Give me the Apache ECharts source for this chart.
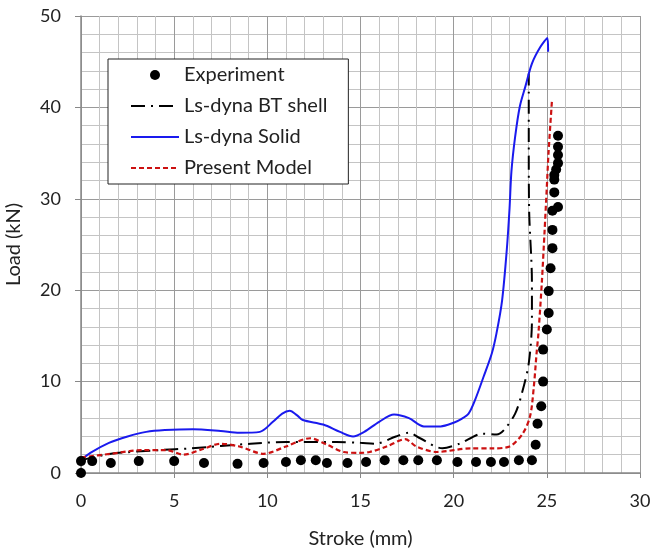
<!DOCTYPE html>
<html><head><meta charset="utf-8">
<script src="https://cdn.jsdelivr.net/npm/echarts@6/dist/echarts.min.js"></script>
<style>html,body{margin:0;padding:0;background:#fff}#c{width:652px;height:551px}</style>
</head><body><div id="c"></div>
<script>
var xTicks = [0, 5, 10, 15, 20, 25, 30];
var yTicks = [0, 10, 20, 30, 40, 50];

var expX = [0, 0, 0.6, 1.6, 3.1, 5.0, 6.6, 8.4, 9.8, 11.0, 11.8, 12.6, 13.2, 14.3, 15.3, 16.3, 17.3, 18.1, 19.1, 20.2, 21.2, 22.0, 22.7, 23.5, 24.2, 24.4, 24.5, 24.7, 24.8, 24.8, 25.0, 25.1, 25.1, 25.2, 25.3, 25.3, 25.3, 25.6, 25.4, 25.4, 25.4, 25.5, 25.6, 25.6, 25.6, 25.6];
var expY = [0, 1.3, 1.3, 1.1, 1.3, 1.3, 1.1, 1.0, 1.1, 1.2, 1.4, 1.4, 1.1, 1.1, 1.2, 1.4, 1.4, 1.4, 1.4, 1.2, 1.2, 1.2, 1.2, 1.4, 1.4, 3.1, 5.4, 7.3, 10.0, 13.5, 15.7, 17.5, 19.9, 22.4, 24.6, 26.6, 28.7, 29.1, 30.7, 32.1, 32.6, 33.2, 33.9, 34.8, 35.7, 36.9];

var btX = [0, 1.6, 4.2, 5.9, 9.1, 11.0, 13.7, 15.0, 15.8, 16.9, 17.6, 18.2, 19.4, 20.3, 20.9, 21.5, 22.3, 22.7, 23.3, 23.66, 24.03, 24.2, 24.2, 24.05, 24.03, 24.03];
var btY = [1.4, 2.1, 2.5, 2.7, 3.2, 3.4, 3.4, 3.3, 3.2, 4.0, 4.4, 3.8, 2.7, 3.2, 3.8, 4.3, 4.2, 4.7, 6.5, 8.7, 12.0, 16.7, 20.8, 28.8, 36.0, 43.7];

var solidX = [0, 0.5, 1.5, 2.5, 3.5, 4.5, 6.0, 7.5, 8.5, 9.6, 10.3, 10.8, 11.2, 11.6, 11.9, 13.0, 13.9, 14.6, 15.2, 16.0, 16.8, 17.6, 18.4, 19.3, 20.0, 20.4, 20.8, 21.15, 21.6, 22.05, 22.3, 22.6, 22.85, 23.0, 23.1, 23.3, 23.55, 23.85, 24.2, 24.65, 25.03, 25.07];
var solidY = [1.4, 2.2, 3.3, 4.0, 4.5, 4.7, 4.8, 4.6, 4.4, 4.5, 5.6, 6.5, 6.8, 6.3, 5.8, 5.3, 4.5, 4.0, 4.5, 5.6, 6.4, 6.0, 5.1, 5.1, 5.5, 5.9, 6.5, 8.0, 10.5, 13.1, 15.3, 18.9, 24.4, 29.0, 33.0, 36.8, 40.1, 42.3, 44.8, 46.6, 47.6, 46.1];

var modelX = [0, 1.6, 3.3, 4.6, 5.5, 6.5, 7.5, 8.5, 9.8, 11.0, 12.3, 13.2, 14.1, 15.0, 15.5, 16.4, 17.4, 18.0, 19.1, 20.9, 22.1, 23.0, 23.7, 24.1, 24.3, 24.45, 24.55, 24.73, 24.88, 25.0, 25.09, 25.27];
var modelY = [1.7, 2.1, 2.5, 2.5, 2.0, 2.6, 3.2, 2.9, 2.1, 2.9, 3.8, 3.1, 2.3, 2.2, 2.3, 2.9, 3.7, 2.9, 2.3, 2.7, 2.7, 2.9, 4.3, 6.2, 9.4, 13.1, 15.3, 20.8, 26.5, 31.3, 35.0, 40.6];

function pairs(xs, ys) { return xs.map(function (x, i) { return [x, ys[i]]; }); }

var font = 'Lato, "Open Sans", sans-serif';
var hide = {opacity: 0};
var chart = echarts.init(document.getElementById('c'), null, {renderer: 'canvas'});
chart.setOption({
  animation: false,
  backgroundColor: '#fff',
  grid: {left: 81, right: 12, top: 16, bottom: 78, containLabel: false, outerBoundsMode: 'none'},
  xAxis: {
    type: 'value', min: xTicks[0], max: xTicks[xTicks.length - 1], interval: 5,
    name: 'Stroke (mm)', nameLocation: 'middle', nameGap: 56,
    nameTextStyle: {fontFamily: font, fontSize: 20, color: '#222'},
    axisLine: {show: true, onZero: false, lineStyle: {color: '#888', width: 1.5}},
    axisTick: {show: true, length: 5, lineStyle: {color: '#888'}},
    axisLabel: {fontFamily: font, fontSize: 18, color: '#222', margin: 19},
    splitLine: {show: true, lineStyle: {color: '#9a9a9a', width: 1}},
    minorTick: {show: false, splitNumber: 5},
    minorSplitLine: {show: true, lineStyle: {color: '#c4c4c4', width: 1}}
  },
  yAxis: {
    type: 'value', min: yTicks[0], max: yTicks[yTicks.length - 1], interval: 10,
    name: 'Load (kN)', nameLocation: 'middle', nameGap: 57, nameRotate: 90,
    nameTextStyle: {fontFamily: font, fontSize: 20, color: '#222'},
    axisLine: {show: true, onZero: false, lineStyle: {color: '#888', width: 1.5}},
    axisTick: {show: true, length: 6, lineStyle: {color: '#888'}},
    axisLabel: {fontFamily: font, fontSize: 18, color: '#222', margin: 20},
    splitLine: {show: true, lineStyle: {color: '#9a9a9a', width: 1}},
    minorTick: {show: false, splitNumber: 5},
    minorSplitLine: {show: true, lineStyle: {color: '#c4c4c4', width: 1}}
  },
  legend: {
    show: true, orient: 'vertical', left: 108, top: 59,
    padding: [6, 21, 6, 22], itemGap: 11,
    itemWidth: 48, itemHeight: 10,
    backgroundColor: '#fff', borderColor: '#222', borderWidth: 1,
    textStyle: {fontFamily: font, fontSize: 20, color: '#222'},
    data: [
      {name: 'Experiment', icon: 'circle'},
      {name: 'Ls-dyna BT shell', itemStyle: hide},
      {name: 'Ls-dyna Solid', itemStyle: hide},
      {name: 'Present Model', itemStyle: hide}
    ]
  },
  series: [
    {name: 'Experiment', type: 'scatter', data: pairs(expX, expY), symbol: 'circle', symbolSize: 10,
     itemStyle: {color: '#000', opacity: 1}, z: 5},
    {name: 'Ls-dyna BT shell', type: 'line', data: pairs(btX, btY), showSymbol: false, symbol: 'none', smooth: 0.3,
     lineStyle: {color: '#000', width: 2, type: [14, 6, 2, 6]}, itemStyle: {color: '#000'}, z: 3},
    {name: 'Ls-dyna Solid', type: 'line', data: pairs(solidX, solidY), showSymbol: false, symbol: 'none', smooth: 0.3,
     lineStyle: {color: '#1a1aee', width: 2}, itemStyle: {color: '#1a1aee'}, z: 3},
    {name: 'Present Model', type: 'line', data: pairs(modelX, modelY), showSymbol: false, symbol: 'none', smooth: 0.3,
     lineStyle: {color: '#cc1111', width: 2.2, type: [5, 3]}, itemStyle: {color: '#cc1111'}, z: 4}
  ]
});
</script></body></html>
